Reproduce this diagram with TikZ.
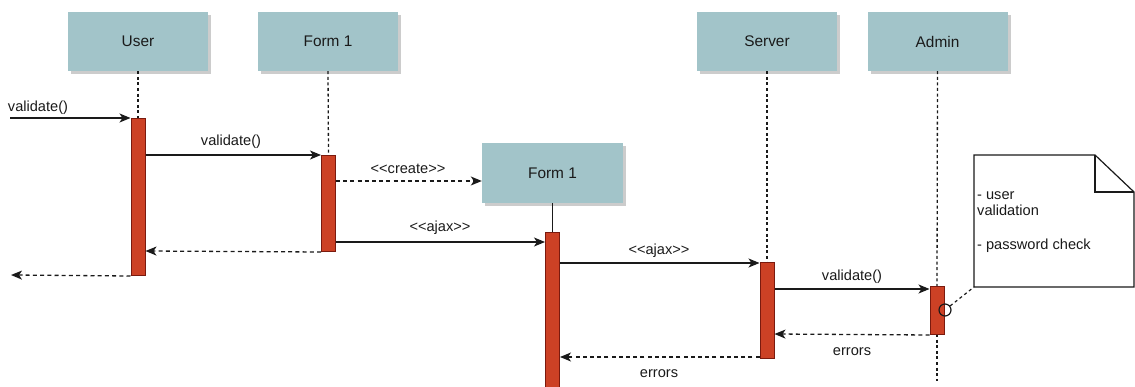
\documentclass[tikz,border=0pt]{standalone}
\usepackage{fontspec}
\setmainfont{Liberation Sans}
\usetikzlibrary{arrows.meta,shadows}
\definecolor{headfill}{HTML}{A2C4C9}
\definecolor{actfill}{HTML}{CC4125}
\definecolor{actdraw}{HTML}{7A1A0E}
\definecolor{ink}{HTML}{1A1A1A}
\tikzset{
  head/.style={draw=none, fill=headfill, minimum width=140pt, minimum height=59pt,
    inner sep=0pt, font=\fontsize{15.4}{18}\selectfont, text=ink,
    drop shadow={shadow xshift=3pt, shadow yshift=-3pt, fill=black!20, opacity=1}},
  act/.style={draw=actdraw, fill=actfill, line width=1pt},
  life/.style={draw=ink, line width=1.3pt, dash pattern=on 3pt off 2.6pt},
  msg/.style={draw=ink, line width=1.2pt, -{Stealth[length=11pt, width=9pt, inset=3pt]}},
  ret/.style={msg, line width=1.3pt, dash pattern=on 4pt off 3.2pt},
  lbl/.style={inner sep=0pt, anchor=base, font=\fontsize{14.6}{17}\selectfont, text=ink},
  actbox/.style={rectangle, inner sep=0pt, minimum width=14pt}
}
\begin{document}
\begin{tikzpicture}[x=1pt, y=-1pt]
\useasboundingbox (0,0) rectangle (1135,387);

% participants
\node[head] (user)   at (138,41.5)   {User};
\node[head] (form)   at (328,41.5)   {Form 1};
\node[head] (server) at (767,41.5)   {Server};
\node[head] (admin)  at (937.5,41.5) {Admin};
\node[head, minimum width=141pt, minimum height=60pt] (formb) at (552.5,173) {Form 1};

% activation bars
\coordinate (uA) at (138,118);  \coordinate (uB) at (138,275);
\coordinate (fA) at (328.5,155); \coordinate (fB) at (328.5,251);
\coordinate (gA) at (552.5,232); \coordinate (gB) at (552.5,392);
\coordinate (sA) at (767,262);  \coordinate (sB) at (767,358);
\coordinate (aA) at (937,286);  \coordinate (aB) at (937,334);

% lifelines
\draw[life] (user.south)   -- (uA);
\draw[life] (form.south)   -- (fA);
\draw[life] (server.south) -- (sA);
\draw[life] (admin.south)  -- (aA);
\draw[life] (aB) -- (937,381);
\draw[ink, line width=1.2pt] (formb.south) -- (gA);

\node[act, actbox, minimum height=157pt, anchor=north] (ubar) at (uA) {};
\node[act, actbox, minimum height=96pt, anchor=north] (fbar) at (fA) {};
\node[act, actbox, minimum height=160pt, anchor=north] (gbar) at (gA) {};
\node[act, actbox, minimum height=96pt, anchor=north] (sbar) at (sA) {};
\node[act, actbox, minimum height=48pt, anchor=north] (abar) at (aA) {};

% messages
\coordinate (in) at (10,118);
\draw[msg] (in) -- (ubar.north west);
\node[lbl] at (38,112) {validate()};

\draw[msg] (ubar.east |- 0,155) -- (fbar.north west);
\node[lbl] at (231,146) {validate()};

\draw[ret] (fbar.east |- 0,181) -- (formb.west |- 0,181);
\node[lbl] at (408,173.5) {<{}<create>{}>};

\draw[ret] (fbar.south west) -- (ubar.east |- 0,251);

\coordinate (out) at (11,275);
\draw[ret] (ubar.south west) -- (out);

\draw[msg] (fbar.east |- 0,242) -- (gbar.west |- 0,242);
\node[lbl] at (440,232) {<{}<ajax>{}>};

\draw[msg] (gbar.east |- 0,263) -- (sbar.west |- 0,263);
\node[lbl] at (659,254.5) {<{}<ajax>{}>};

\draw[msg] (sbar.east |- 0,289) -- (abar.west |- 0,289);
\node[lbl] at (852,281) {validate()};

\draw[ret] (abar.south west) -- (sbar.east |- 0,334);
\node[lbl] at (852,355) {errors};

\draw[ret] (sbar.west |- 0,357) -- (gbar.east |- 0,357);
\node[lbl] at (659,377) {errors};

% note
\draw[ink, line width=1.2pt, fill=white]
  (974,155) -- (1095,155) -- (1134,192) -- (1134,287) -- (974,287) -- cycle;
\draw[ink, line width=1.2pt] (1095,155) -- (1095,192) -- (1134,192);
\node[inner sep=0pt, anchor=north west, align=left, text=ink,
  font=\fontsize{14.6}{16.8}\selectfont] (note) at (977,191)
  {- user\\validation\\[16.8pt]- password check};
\coordinate (nBL) at (974,287);
\node[circle, draw=ink, line width=1.2pt, inner sep=0pt, minimum size=12pt] (anc) at (945,310) {};
\draw[ink, line width=1.2pt, dash pattern=on 3pt off 3pt] (anc) -- (nBL);
\end{tikzpicture}
\end{document}
